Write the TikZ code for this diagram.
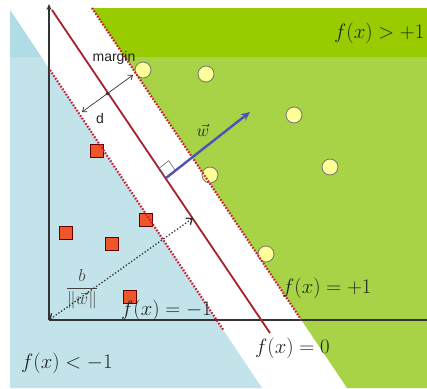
\documentclass[tikz,border=0pt]{standalone}
\usepackage{fontspec}
\setsansfont{Liberation Sans}
\usetikzlibrary{arrows.meta}
\definecolor{gband}{HTML}{99CC00}
\definecolor{glight}{HTML}{A8D346}
\definecolor{bband}{HTML}{B0DCE5}
\definecolor{blight}{HTML}{C2E3EA}
\definecolor{hred}{HTML}{A8202E}
\definecolor{dred}{HTML}{C8202E}
\definecolor{wblue}{HTML}{5050B8}
\definecolor{circfill}{HTML}{FFFF99}
\definecolor{sqfill}{HTML}{EE5528}
\definecolor{axisc}{HTML}{333333}
\definecolor{txt}{HTML}{222222}
\tikzset{
  posv/.style={circle, minimum size=16pt, inner sep=0pt, fill=circfill, draw=black!55, line width=0.8pt},
  negv/.style={rectangle, minimum size=12.5pt, inner sep=0pt, fill=sqfill, draw=black!60!red, line width=0.6pt},
  marginline/.style={dred, line width=2.2pt, dash pattern=on 1.6pt off 1.6pt},
  hyper/.style={hred, line width=1.8pt},
  lbl/.style={text=txt, font=\fontsize{20.5}{24}\selectfont, inner sep=0pt, anchor=west},
  sflbl/.style={text=txt, font=\sffamily\fontsize{14}{16}\selectfont, inner sep=0pt},
}
\begin{document}
\begin{tikzpicture}[x=1pt,y=-1pt]
\useasboundingbox (0,0) rectangle (427,388);
\clip (0,0) rectangle (427,388);
% regions
\fill[blight] (10,10) -- (10,388) -- (262,388) -- cycle;
\fill[bband] (10,10) -- (10,57) -- (41.3,57) -- cycle;
\fill[glight] (92,8) -- (427,8) -- (427,388) -- (347,388) -- cycle;
\fill[gband] (92,8) -- (427,8) -- (427,57) -- (124.9,57) -- cycle;
% coordinates
\coordinate (O) at (49,320);
\coordinate (ytop) at (49,4);
\coordinate (xend) at (440,320);
\coordinate (ma) at (50,70);
\coordinate (mb) at (223.3,330);
\coordinate (pa) at (92,8);
\coordinate (pb) at (301.4,320);
\coordinate (ha) at (52,10);
\coordinate (hb) at (270,333);
\coordinate (w0) at (166,178);
\coordinate (w1) at (250,112);
\coordinate (bt) at (193,218);
\coordinate (dA) at (82,112);
\coordinate (dB) at (133,75);
\coordinate (dm) at (107.5,93.5);
% axes
\draw[axisc, line width=1.5pt] (O) -- (xend);
\draw[axisc, line width=1.5pt, -{Stealth[length=6pt,width=5pt]}] (O) -- (ytop);
% hyperplane
\draw[hyper] (ha) -- (hb);
% points
\node[posv] (c1) at (143,70) {};
\node[posv] (c2) at (206,74) {};
\node[posv] (c3) at (294,115) {};
\node[posv] (c4) at (330,167) {};
\node[posv] (c5) at (210,175) {};
\node[posv] (c6) at (266,254) {};
\node[negv] (s1) at (97,151) {};
\node[negv] (s2) at (146,220) {};
\node[negv] (s3) at (66,233) {};
\node[negv] (s4) at (112,244) {};
\node[negv] (s5) at (130,297) {};
% margin lines
\draw[marginline] (ma) -- (mb);
\draw[marginline] (pa) -- (pb);
% right angle mark
\draw[black!60, line width=0.6pt] (w0) -- ++(-6.7,-9.9) -- ++(9.4,-7.4) -- ++(6.7,9.9);
% w vector
\draw[wblue, line width=2.4pt, -{Stealth[length=9pt,width=8pt]}] (w0) -- (w1);
\node[text=txt, font=\fontsize{17}{20}\selectfont, inner sep=0pt] (wl) at (203,130) {$\vec{w}$};
% margin arrow
\draw[axisc, line width=0.7pt, {Straight Barb[length=4pt,width=6pt]}-{Straight Barb[length=4pt,width=6pt]}] (dA) -- (dB);
\fill[axisc] (dm) circle (1.8pt);
\node[sflbl] (mlab) at (114,58) {margin};
\node[sflbl] (dlab) at (100,118) {d};
% b/||w|| arrow
\node[text=txt!85, font=\fontsize{16}{19}\selectfont, inner sep=0pt] (bw) at (82,289) {$\displaystyle\frac{b}{\|\vec{w}\|}$};
\draw[axisc, line width=1.3pt, dotted, {Straight Barb[length=5pt,width=8pt]}-{Straight Barb[length=5pt,width=8pt]}] (O) -- (bt);
% labels
\node[lbl, font=\fontsize{19.5}{23}\selectfont] (fp1) at (334,33) {$f(x)>+1$};
\node[lbl] (fpe) at (282,288) {$f(x)=+1$};
\node[lbl] (f0) at (255,348) {$f(x)=0$};
\node[lbl] (fme) at (121,310) {$f(x)=-1$};
\node[lbl] (fm1) at (21,363) {$f(x)<-1$};
\end{tikzpicture}
\end{document}
